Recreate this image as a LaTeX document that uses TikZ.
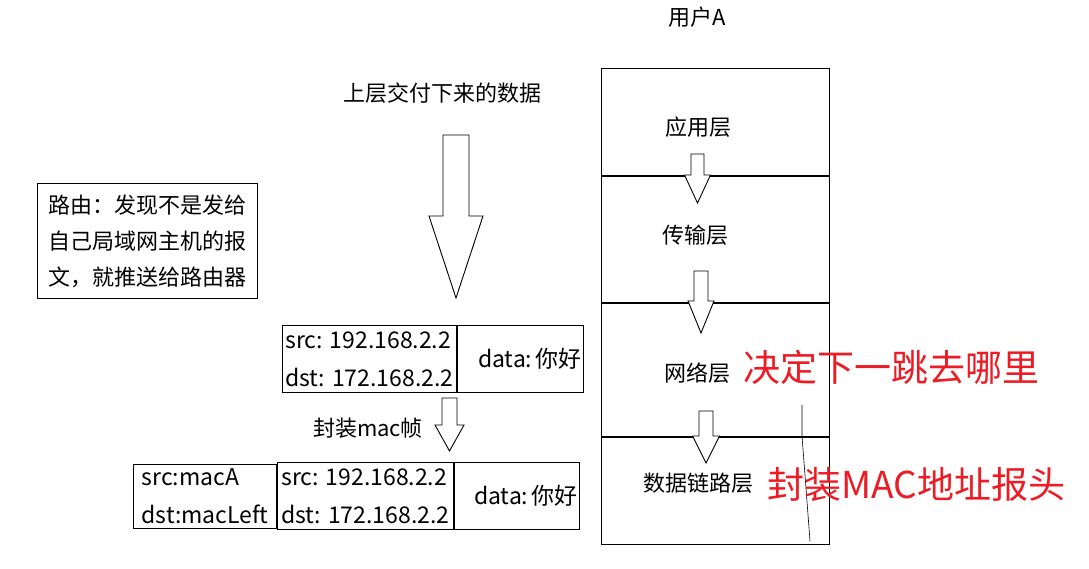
\documentclass[tikz,border=0pt]{standalone}
\usepackage{fontspec}
\setmainfont{Noto Sans CJK SC}
\usetikzlibrary{positioning}
\definecolor{notered}{RGB}{237,28,36}
% hollow down arrow: centre x, top, neck, tip, shaft half width, head half width
\newcommand{\dropArrow}[6]{%
  \filldraw[fill=white] (#1-#5,#2) -- (#1+#5,#2) -- (#1+#5,#3) -- (#1+#6,#3)
    -- (#1,#4) -- (#1-#6,#3) -- (#1-#5,#3) -- cycle;}
\tikzset{
  pkt/.style={draw,inner sep=0pt,minimum height=67pt,align=left,
    font=\fontsize{23}{38}\selectfont},
  datbox/.style={pkt,align=right},
  layer/.style={draw,inner sep=0pt,minimum width=228pt},
  lbl/.style={inner sep=0pt},
  redtxt/.style={inner sep=0pt,text=notered,font=\fontsize{37}{40}\selectfont}
}
\begin{document}
\begin{tikzpicture}[x=1pt,y=-1pt,line width=.9pt,font=\fontsize{22}{36}\selectfont]
  \useasboundingbox (0,0) rectangle (1089,569);
  % protocol stack of user A
  \node[lbl] (user) at (697,17) {用户A};
  \node[layer,minimum height=107pt,anchor=north west] (app) at (601,68) {};
  \node[layer,minimum height=126pt,below=0pt of app] (trans) {};
  \node[layer,minimum height=133pt,below=0pt of trans] (net) {};
  \node[layer,minimum height=107pt,below=0pt of net] (link) {};
  \node[lbl] (appt) at (698,127) {应用层};
  \node[lbl] (transt) at (695,235) {传输层};
  \node[lbl] (nett) at (697,373) {网络层};
  \node[lbl] (linkt) at (698,483) {数据链路层};
  \dropArrow{697.5}{154}{175}{203}{6.5}{13}
  \dropArrow{701}{271}{301}{333}{7}{13}
  \dropArrow{706}{411}{436}{463}{7}{13.5}
  \draw[line width=.6pt] (802,405) -- (802,436) -- (810,541);
  \node[redtxt] (hop) at (891,367) {决定下一跳去哪里};
  \node[redtxt] (frame) at (916.5,485) {封装MAC地址报头};
  % data handed down
  \node[lbl] (upper) at (442,93) {上层交付下来的数据};
  \dropArrow{456}{135}{216}{298}{13}{27}
  \node[draw,inner sep=0pt,minimum width=220pt,minimum height=115pt,align=left,
    anchor=north west] (note) at (37,183) {路由：发现不是发给\\自己局域网主机的报\\文，就推送给路由器};
  % IP packet
  \node[pkt,minimum width=174pt,anchor=north west] (ip1) at (282,325) {src: 192.168.2.2\\dst: 172.168.2.2};
  \node[datbox,minimum width=126pt,text width=122pt,right=0pt of ip1] (data1) {data:\hspace{3pt}你好};
  \node[lbl] (wrap) at (368,428) {封装mac帧};
  \dropArrow{449.5}{398}{425}{451}{7.5}{14.5}
  % MAC frame
  \node[pkt,minimum width=176pt,anchor=north west] (ip2) at (277,462) {src: 192.168.2.2\\dst: 172.168.2.2};
  \node[datbox,minimum width=125pt,text width=121pt,right=0pt of ip2] (data2) {data:\hspace{3pt}你好};
  \node[pkt,minimum width=143pt,minimum height=64pt,left=0pt of ip2] (mac) {src:macA\\dst:macLeft};
\end{tikzpicture}
\end{document}
